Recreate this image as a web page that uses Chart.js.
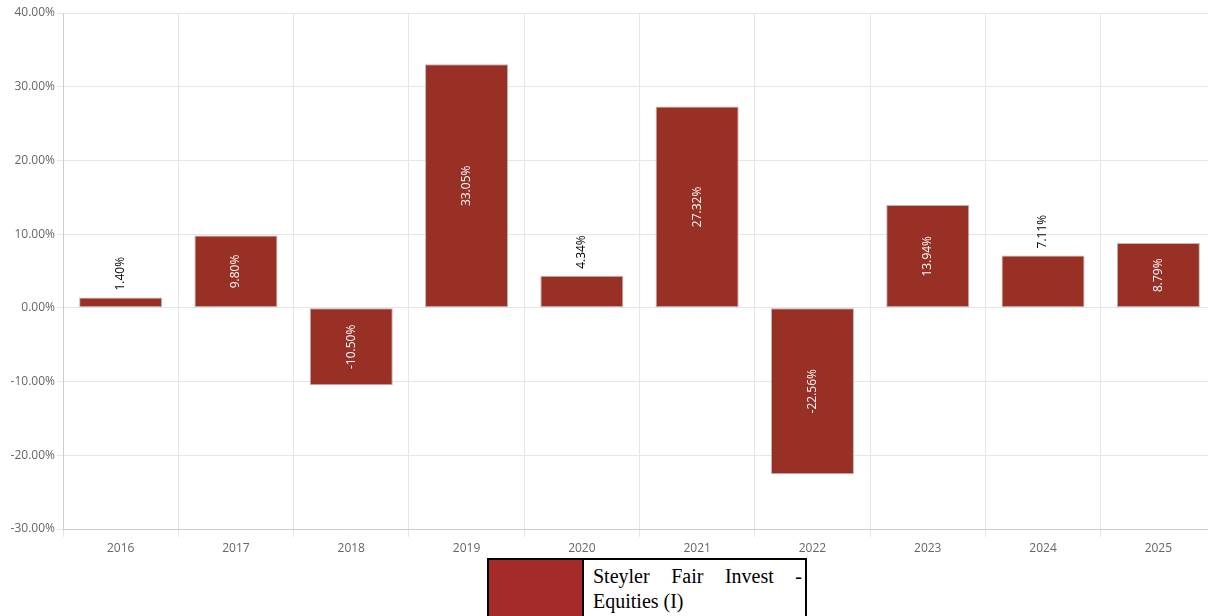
<!DOCTYPE html>
<html>
<head>
<meta charset="utf-8">
<script src="https://cdn.jsdelivr.net/npm/chart.js@4.4.1/dist/chart.umd.min.js"></script>
<style>
  body { margin: 0; overflow: hidden; background: #fff; }
  .chart-container { position: relative; width: 1216px; height: 558px; }
  .legend-box { margin-left: 487px; width: 316px; min-height: 70px; border: 2px solid #000; display: flex; }
  .legend-swatch { width: 93px; flex: none; }
  .legend-text {
    font-family: "Liberation Serif", "DejaVu Serif", serif;
    font-size: 20px; line-height: 25px; text-align: justify;
    padding: 4px 3px 0 9px; border-left: 2px solid #000;
  }
</style>
</head>
<body>
<div class="chart-container"><canvas id="myChart"></canvas></div>
<div class="legend-container"></div>
<script>
// chart data
const years = ["2016", "2017", "2018", "2019", "2020", "2021", "2022", "2023", "2024", "2025"];
const returns = [1.40, 9.80, -10.50, 33.05, 4.34, 27.32, -22.56, 13.94, 7.11, 8.79];
const seriesName = "Steyler Fair Invest - Equities (I)";
const yTicks = [-30, -20, -10, 0, 10, 20, 30, 40];

let legendContainer = document.querySelector(".legend-container");

// rotated value labels, inside the bar when it fits, above it otherwise
const barLabels = {
  id: "barLabels",
  afterDatasetsDraw(chart) {
    const ctx = chart.ctx;
    const meta = chart.getDatasetMeta(0);
    ctx.save();
    ctx.font = "12px 'Open Sans'";
    meta.data.forEach((bar, k) => {
      const text = returns[k].toFixed(2) + "%";
      const w = ctx.measureText(text).width;
      const h = Math.abs(bar.base - bar.y);
      ctx.save();
      if (h > w + 20) {
        ctx.translate(bar.x, (bar.y + bar.base) / 2);
        ctx.rotate(-Math.PI / 2);
        ctx.fillStyle = "#fff";
        ctx.textAlign = "center";
      } else {
        ctx.translate(bar.x, bar.y - 7);
        ctx.rotate(-Math.PI / 2);
        ctx.fillStyle = "#000";
        ctx.textAlign = "left";
      }
      ctx.textBaseline = "middle";
      ctx.fillText(text, 0, 0);
      ctx.restore();
    });
    ctx.restore();
  },
};

// html legend below the chart
const htmlLegend = {
  id: "htmlLegend",
  afterUpdate(chart) {
    legendContainer.innerHTML = "";
    chart.data.datasets.forEach((ds) => {
      let box = document.createElement("div");
      box.className = "legend-box";
      box.innerHTML = `
        <div class="legend-swatch" style="background:#a52a2a"></div>
        <div class="legend-text">${ds.label}</div>`;
      legendContainer.appendChild(box);
    });
  },
};

const data = {
  labels: years,
  datasets: [
    {
      label: seriesName,
      data: returns,
      backgroundColor: "#993025",
      borderColor: "rgba(175,175,175,0.9)",
      borderWidth: 1,
      borderSkipped: false,
      categoryPercentage: 0.72,
      barPercentage: 1,
    },
  ],
};

const config = {
  type: "bar",
  data: data,
  options: {
    responsive: true,
    maintainAspectRatio: false,
    animation: false,
    layout: { padding: { top: 13, right: 0, left: 0, bottom: 0 } },
    plugins: {
      legend: { display: false },
      tooltip: { enabled: false },
    },
    scales: {
      x: {
        grid: { color: "#e6e6e6", tickLength: 8 },
        border: { color: "#cccccc" },
        ticks: { color: "#666", font: { family: "'Open Sans'", size: 12 }, padding: 4 },
        afterFit: (axis) => { axis.height = 29; },
      },
      y: {
        min: -30,
        max: 40,
        afterBuildTicks: (axis) => { axis.ticks = yTicks.map((v) => ({ value: v })); },
        grid: { color: "#e6e6e6", tickLength: 6 },
        border: { color: "#cccccc" },
        ticks: {
          color: "#666",
          font: { family: "'Open Sans'", size: 12 },
          padding: 2,
          callback: (v) => v.toFixed(2) + "%",
        },
        afterFit: (axis) => { axis.width = 63; },
      },
    },
  },
  plugins: [barLabels, htmlLegend],
};

const myChart = new Chart(document.getElementById("myChart"), config);
</script>
</body>
</html>
